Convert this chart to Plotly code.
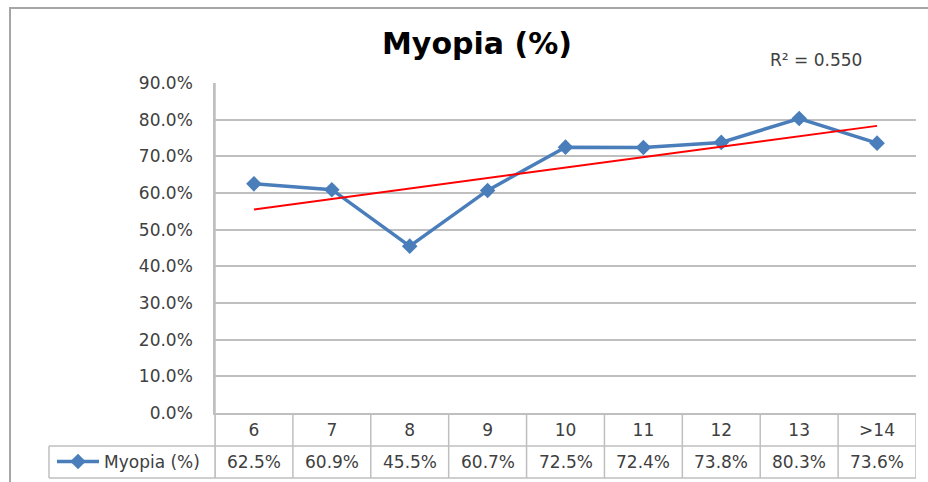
import numpy as np
import plotly.graph_objects as go

categories = ["6", "7", "8", "9", "10", "11", "12", "13", ">14"]
myopia_pct = [62.5, 60.9, 45.5, 60.7, 72.5, 72.4, 73.8, 80.3, 73.6]
series_name = "Myopia (%)"
y_tick_vals = [0.0, 0.1, 0.2, 0.3, 0.4, 0.5, 0.6, 0.7, 0.8, 0.9]

W, H = 928, 482
ML, MR, MT, MB = 215, 12, 83, 69
PW, PH = W - ML - MR, H - MT - MB

def px_x(p):  # pixel x -> paper x
    return (p - ML) / PW

def px_y(p):  # pixel y -> paper y
    return (H - MB - p) / PH

y = np.array(myopia_pct) / 100.0
xi = np.arange(len(categories))
slope, intercept = np.polyfit(xi, y, 1)
trend = slope * xi + intercept
r2 = 1 - np.sum((y - trend) ** 2) / np.sum((y - y.mean()) ** 2)

BLUE = "#4a7ebb"
GRID = "#bfbfbf"
TXT = "#404040"
FONT = "DejaVu Sans"
FS = 17

fig = go.Figure()
fig.add_trace(go.Scatter(
    x=categories, y=y, mode="lines+markers", name=series_name,
    line=dict(color=BLUE, width=3.5),
    marker=dict(symbol="diamond", size=12, color=BLUE),
))
fig.add_trace(go.Scatter(
    x=[categories[0], categories[-1]], y=[trend[0], trend[-1]], mode="lines",
    line=dict(color="#ff0000", width=2), showlegend=False, hoverinfo="skip",
))

shapes = []
# outer chart border
shapes.append(dict(type="rect", xref="paper", yref="paper",
                   x0=px_x(10), x1=px_x(940), y0=px_y(495), y1=px_y(8),
                   line=dict(color="#a6a6a6", width=2), fillcolor="rgba(0,0,0,0)", layer="below"))
# table vertical dividers
for i in range(len(categories) + 1):
    shapes.append(dict(type="line", xref="x", yref="paper",
                       x0=i - 0.5, x1=i - 0.5, y0=0, y1=px_y(478),
                       line=dict(color=GRID, width=1.5)))
# table horizontal lines
for yy in (446, 478):
    shapes.append(dict(type="line", xref="paper", yref="paper",
                       x0=px_x(49), x1=1, y0=px_y(yy), y1=px_y(yy),
                       line=dict(color=GRID, width=1.5)))
# legend cell left border
shapes.append(dict(type="line", xref="paper", yref="paper",
                   x0=px_x(49), x1=px_x(49), y0=px_y(446), y1=px_y(478),
                   line=dict(color=GRID, width=1.5)))
# left axis line continuation
shapes.append(dict(type="line", xref="paper", yref="paper",
                   x0=0, x1=0, y0=px_y(478), y1=1,
                   line=dict(color=GRID, width=1.5)))

annotations = []
for i, v in enumerate(myopia_pct):
    annotations.append(dict(x=i, xref="x", y=px_y(462), yref="paper",
                            text=f"{v:.1f}%", showarrow=False,
                            font=dict(family=FONT, size=FS, color=TXT),
                            xanchor="center", yanchor="middle"))
annotations.append(dict(x=px_x(816), xref="paper", y=px_y(60), yref="paper",
                        text=f"R² = {r2:.3f}", showarrow=False,
                        font=dict(family=FONT, size=17, color=TXT),
                        xanchor="center", yanchor="middle"))

fig.update_layout(
    width=W, height=H,
    margin=dict(l=ML, r=MR, t=MT, b=MB, autoexpand=False),
    paper_bgcolor="white", plot_bgcolor="white",
    title=dict(text="<b>Myopia (%)</b>", x=477 / W, xanchor="center",
               y=1 - 43 / H, yanchor="middle", yref="container",
               font=dict(family=FONT, size=30, color="black")),
    showlegend=True,
    legend=dict(x=px_x(52), xanchor="left", y=px_y(462), yanchor="middle",
                bgcolor="rgba(0,0,0,0)", font=dict(family=FONT, size=FS, color=TXT),
                itemwidth=42),
    xaxis=dict(type="category", range=[-0.5, len(categories) - 0.5],
               showgrid=False, zeroline=False, showline=True, linecolor=GRID, linewidth=1.5,
               ticks="", tickfont=dict(family=FONT, size=FS, color=TXT),
               ticklabelstandoff=1, fixedrange=True),
    yaxis=dict(range=[0, 0.9], tickvals=y_tick_vals, tickformat=".1%",
               showgrid=True, gridcolor=GRID, gridwidth=1.5, zeroline=False,
               showline=True, linecolor=GRID, linewidth=1.5,
               ticks="", tickfont=dict(family=FONT, size=FS, color=TXT),
               ticklabelstandoff=17, fixedrange=True),
    shapes=shapes, annotations=annotations,
)

fig.write_html("out.html", config={"displayModeBar": False},
               post_script="document.body.style.margin='0';")
